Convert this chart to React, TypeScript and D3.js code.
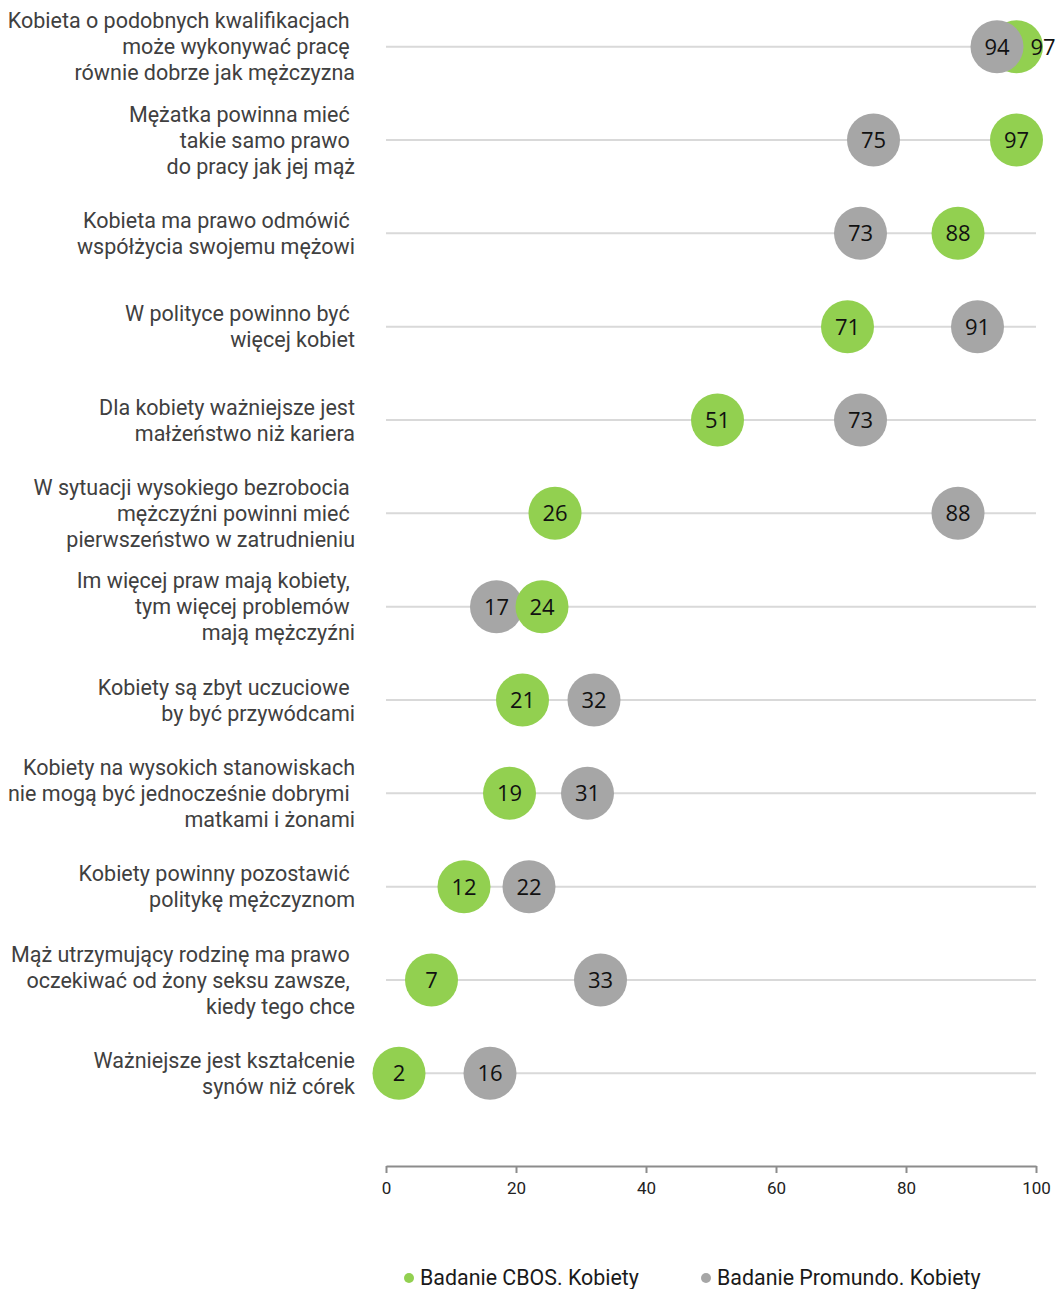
import * as d3 from "d3";
import { useEffect, useRef } from "react";

// category labels, one entry per row, split into lines as in the source
const categories: string[][] = [
  ["Kobieta o podobnych kwalifikacjach ", "może wykonywać pracę ", "równie dobrze jak mężczyzna"],
  ["Mężatka powinna mieć ", "takie samo prawo ", "do pracy jak jej mąż"],
  ["Kobieta ma prawo odmówić ", "współżycia swojemu mężowi"],
  ["W polityce powinno być ", "więcej kobiet"],
  ["Dla kobiety ważniejsze jest", "małżeństwo niż kariera"],
  ["W sytuacji wysokiego bezrobocia ", "mężczyźni powinni mieć ", "pierwszeństwo w zatrudnieniu"],
  ["Im więcej praw mają kobiety, ", "tym więcej problemów ", "mają mężczyźni"],
  ["Kobiety są zbyt uczuciowe ", "by być przywódcami"],
  ["Kobiety na wysokich stanowiskach", "nie mogą być jednocześnie dobrymi ", "matkami i żonami"],
  ["Kobiety powinny pozostawić ", "politykę mężczyznom"],
  ["Mąż utrzymujący rodzinę ma prawo ", "oczekiwać od żony seksu zawsze, ", "kiedy tego chce"],
  ["Ważniejsze jest kształcenie", "synów niż córek"],
];

const cbosValues = [97, 97, 88, 71, 51, 26, 24, 21, 19, 12, 7, 2];
const promundoValues = [94, 75, 73, 91, 73, 88, 17, 32, 31, 22, 33, 16];
const xTicks = [0, 20, 40, 60, 80, 100];
const seriesNames = ["Badanie CBOS. Kobiety", "Badanie Promundo. Kobiety"];

const GREEN = "#92d050";
const GRAY = "#a6a6a6";

export default function App() {
  const svgRef = useRef<SVGSVGElement | null>(null);

  useEffect(() => {
    if (!svgRef.current) return;
    const width = 1057;
    const height = 1289;
    const svg = d3.select(svgRef.current);
    svg.selectAll("*").remove();
    svg.attr("width", width).attr("height", height);

    const rowIds = categories.map((_, i) => String(i));
    const x = d3.scaleLinear().domain([0, 100]).range([386, 1036]);
    const y = d3.scaleBand().domain(rowIds).range([0, 1120]);
    const cy = (i: number) => y(String(i))! + y.bandwidth() / 2;
    const r = 26.5;

    // gridlines
    svg
      .append("g")
      .selectAll("line")
      .data(rowIds)
      .enter()
      .append("line")
      .attr("x1", x(0))
      .attr("x2", x(100))
      .attr("y1", (_, i) => cy(i))
      .attr("y2", (_, i) => cy(i))
      .attr("stroke", "#d9d9d9")
      .attr("stroke-width", 2);

    // category labels
    const lineH = 26;
    const labels = svg
      .append("g")
      .attr("font-family", "Roboto, sans-serif")
      .attr("font-size", 21.5)
      .attr("fill", "#404040")
      .attr("text-anchor", "end");
    categories.forEach((lines, i) => {
      const t = labels
        .append("text")
        .attr("y", cy(i) - ((lines.length - 1) * lineH) / 2)
        .style("white-space", "pre");
      lines.forEach((ln, j) => {
        t.append("tspan")
          .attr("x", 355)
          .attr("dy", j === 0 ? "0.35em" : lineH)
          .text(ln);
      });
    });

    // circles
    type Pt = { row: number; v: number; color: string; other: number; series: number };
    const pts: Pt[] = [];
    cbosValues.forEach((v, i) =>
      pts.push({ row: i, v, color: GREEN, other: promundoValues[i], series: 0 })
    );
    promundoValues.forEach((v, i) =>
      pts.push({ row: i, v, color: GRAY, other: cbosValues[i], series: 1 })
    );
    // the gray series is drawn above, except where the green one sits above it in the source
    const greenOnTop = [6];
    const order = (p: Pt) =>
      p.series === 0 ? (greenOnTop.includes(p.row) ? 2 : 0) : 1;
    pts.sort((a, b) => order(a) - order(b));

    const marks = svg.append("g");
    marks
      .selectAll("circle")
      .data(pts)
      .enter()
      .append("circle")
      .attr("cx", (d) => x(d.v))
      .attr("cy", (d) => cy(d.row))
      .attr("r", r)
      .attr("fill", (d) => d.color);

    marks
      .selectAll("text")
      .data(pts)
      .enter()
      .append("text")
      .attr("x", (d) => {
        const dx = x(d.v) - x(d.other);
        // heavily overlapping pair: push the label of the covered bubble outward
        if (Math.abs(dx) < r && order(d) === 0) return x(d.v) + Math.sign(dx) * r;
        return x(d.v);
      })
      .attr("y", (d) => cy(d.row))
      .attr("dy", "0.36em")
      .attr("text-anchor", "middle")
      .attr("font-family", "'Open Sans', sans-serif")
      .attr("font-size", 22)
      .attr("fill", "#111")
      .text((d) => d.v);

    // x axis
    const axis = svg
      .append("g")
      .attr("transform", "translate(0,1166)")
      .call(
        d3
          .axisBottom(x)
          .tickValues(xTicks)
          .tickSize(7)
          .tickSizeOuter(0)
          .tickFormat(d3.format("d"))
      );
    axis.select(".domain").attr("stroke", "#8c8c8c").attr("stroke-width", 2);
    axis.selectAll(".tick line").attr("stroke", "#8c8c8c").attr("stroke-width", 2);
    axis
      .selectAll(".tick text")
      .attr("font-family", "Roboto, sans-serif")
      .attr("font-size", 17)
      .attr("fill", "#222")
      .attr("y", 16);

    // legend
    const legend = svg
      .append("g")
      .attr("font-family", "Roboto, sans-serif")
      .attr("font-size", 21.4)
      .attr("fill", "#1a1a1a");
    const legendX = [409, 706];
    seriesNames.forEach((name, i) => {
      legend
        .append("circle")
        .attr("cx", legendX[i])
        .attr("cy", 1278)
        .attr("r", 5)
        .attr("fill", i === 0 ? GREEN : GRAY);
      legend
        .append("text")
        .attr("x", legendX[i] + 11)
        .attr("y", 1278)
        .attr("dy", "0.35em")
        .text(name);
    });
  }, []);

  return (
    <div style={{ position: "absolute", left: 0, top: 0 }}>
      <svg ref={svgRef} style={{ display: "block" }} />
    </div>
  );
}
